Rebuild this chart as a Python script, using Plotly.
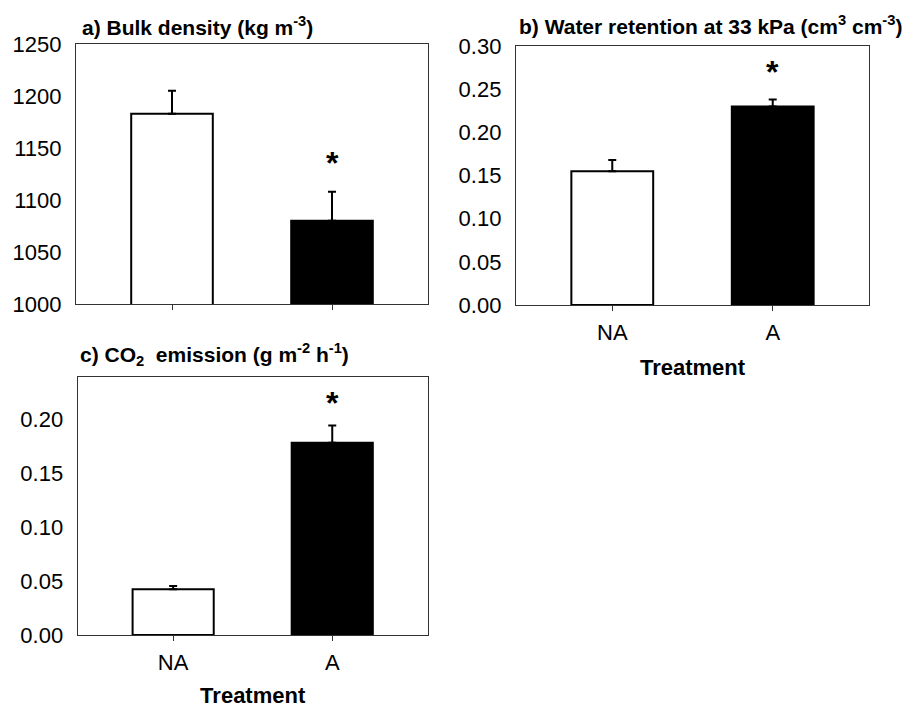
import plotly.graph_objects as go

categories = ["NA", "A"]
x_pos = [0, 1]
bar_colors = ["white", "black"]

bulk_density = [1183, 1080]
bulk_density_err = [22, 28]

water_retention = [0.155, 0.230]
water_retention_err = [0.013, 0.008]

co2_emission = [0.0425, 0.1787]
co2_emission_err = [0.003, 0.016]

star_a = 1138
star_b = 0.273
star_c = 0.218

FONT = "Liberation Sans, Arial, sans-serif"

fig = go.Figure()

def add_bars(vals, errs, xa, ya):
    fig.add_trace(go.Bar(
        x=x_pos, y=vals, width=0.51,
        marker=dict(color=bar_colors, line=dict(color="black", width=2)),
        error_y=dict(type="data", symmetric=False, array=errs, arrayminus=[0, 0],
                     color="black", thickness=2, width=4),
        xaxis=xa, yaxis=ya, showlegend=False, hoverinfo="skip",
    ))

add_bars(bulk_density, bulk_density_err, "x", "y")
add_bars(water_retention, water_retention_err, "x2", "y2")
add_bars(co2_emission, co2_emission_err, "x3", "y3")

frame = dict(showline=True, linecolor="#333", linewidth=1.3, mirror=True,
             showgrid=False, zeroline=False, automargin=False)

def xaxis(domain, anchor, labels):
    d = dict(frame, domain=domain, anchor=anchor, range=[-0.6, 1.6],
             tickvals=x_pos, ticks="outside", ticklen=5, tickwidth=1, tickcolor="#333",
             tickfont=dict(family=FONT, size=22, color="black"))
    if labels:
        d.update(ticktext=categories, ticklabelstandoff=2,
                 title=dict(text="<b>Treatment</b>", standoff=16,
                            font=dict(family=FONT, size=22, color="black")))
    else:
        d.update(showticklabels=False)
    return d

def yaxis(domain, anchor, rng, dtick, fmt):
    return dict(frame, domain=domain, anchor=anchor, range=rng, dtick=dtick,
                tick0=rng[0], tickformat=fmt, ticks="", ticklabelstandoff=9,
                tickfont=dict(family=FONT, size=22, color="black"))

W, H = 924, 708
def px(x0, x1):
    return [x0 / W, x1 / W]
def py(top, bottom):
    return [1 - bottom / H, 1 - top / H]

fig.update_layout(
    template="none",
    width=W, height=H, margin=dict(l=0, r=0, t=0, b=0, autoexpand=False),
    paper_bgcolor="white", plot_bgcolor="white",
    xaxis=xaxis(px(76, 428), "y", False),
    yaxis=yaxis(py(44, 304), "x", [1000, 1250], 50, "d"),
    xaxis2=xaxis(px(516, 869), "y2", True),
    yaxis2=yaxis(py(46, 305), "x2", [0, 0.30], 0.05, ".2f"),
    xaxis3=xaxis(px(77.7, 427.7), "y3", True),
    yaxis3=yaxis(py(376.7, 635), "x3", [0, 0.24], 0.05, ".2f"),
)

titles = [
    ("a) Bulk density (kg m<sup>-3</sup>)", 80, 26),
    ("b) Water retention at 33 kPa (cm<sup>3</sup> cm<sup>-3</sup>)", 517, 25),
    ("c) CO<sub>2</sub>\u00a0 emission (g m<sup>-2</sup> h<sup>-1</sup>)", 78, 355),
]
for txt, xp, yp in titles:
    fig.add_annotation(text="<b>" + txt + "</b>", x=xp / W, y=1 - yp / H,
                       xref="paper", yref="paper", xanchor="left", yanchor="middle",
                       showarrow=False, font=dict(family=FONT, size=21, color="black"))

for xa, ya, yv in [("x", "y", star_a), ("x2", "y2", star_b), ("x3", "y3", star_c)]:
    fig.add_annotation(text="<b>*</b>", x=1, y=yv, xref=xa, yref=ya,
                       xanchor="center", yanchor="middle", yshift=-3,
                       showarrow=False, font=dict(family=FONT, size=32, color="black"))

fig.write_html("out.html")
